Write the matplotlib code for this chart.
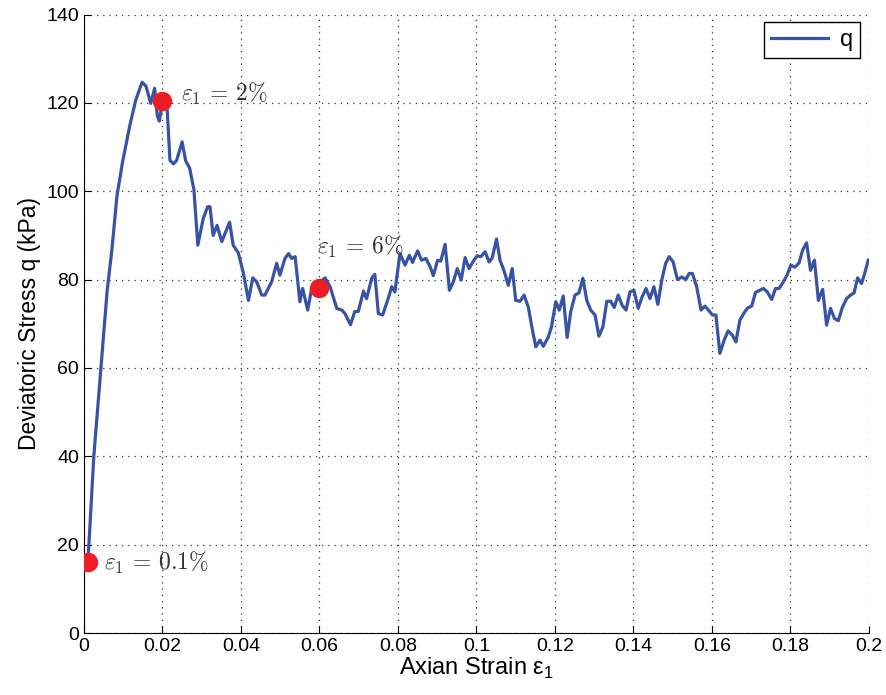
import matplotlib.pyplot as plt

# strain (-) and deviatoric stress q (kPa)
strain = [0.0010, 0.0025, 0.0043, 0.0059, 0.0071, 0.0084, 0.0099, 0.0117, 0.0132, 0.0148,
          0.0158, 0.0170, 0.0180, 0.0187, 0.0192, 0.0200, 0.0212, 0.0219, 0.0228, 0.0236,
          0.0250, 0.0259, 0.0269, 0.0280, 0.0290, 0.0304, 0.0315, 0.0321, 0.0329, 0.0339,
          0.0351, 0.0371, 0.0380, 0.0393, 0.0406, 0.0419, 0.0430, 0.0440, 0.0453, 0.0461,
          0.0478, 0.0491, 0.0499, 0.0512, 0.0521, 0.0529, 0.0538, 0.0550, 0.0557, 0.0570,
          0.0580, 0.0596, 0.0614, 0.0627, 0.0644, 0.0657, 0.0665, 0.0679, 0.0690, 0.0699,
          0.0712, 0.0720, 0.0733, 0.0741, 0.0750, 0.0761, 0.0775, 0.0784, 0.0792, 0.0805,
          0.0818, 0.0829, 0.0837, 0.0850, 0.0860, 0.0871, 0.0882, 0.0890, 0.0901, 0.0909,
          0.0920, 0.0931, 0.0941, 0.0951, 0.0961, 0.0971, 0.0981, 0.0992, 0.1002, 0.1011,
          0.1022, 0.1032, 0.1040, 0.1051, 0.1060, 0.1071, 0.1081, 0.1091, 0.1100, 0.1111,
          0.1121, 0.1132, 0.1141, 0.1151, 0.1162, 0.1170, 0.1183, 0.1191, 0.1202, 0.1211,
          0.1221, 0.1231, 0.1240, 0.1251, 0.1261, 0.1271, 0.1281, 0.1291, 0.1302, 0.1312,
          0.1322, 0.1332, 0.1342, 0.1351, 0.1361, 0.1371, 0.1381, 0.1391, 0.1401, 0.1412,
          0.1422, 0.1432, 0.1442, 0.1452, 0.1462, 0.1472, 0.1482, 0.1491, 0.1501, 0.1512,
          0.1523, 0.1533, 0.1542, 0.1550, 0.1561, 0.1572, 0.1582, 0.1591, 0.1601, 0.1610,
          0.1620, 0.1631, 0.1641, 0.1652, 0.1661, 0.1671, 0.1682, 0.1691, 0.1701, 0.1711,
          0.1722, 0.1731, 0.1741, 0.1752, 0.1762, 0.1771, 0.1782, 0.1792, 0.1801, 0.1811,
          0.1822, 0.1831, 0.1841, 0.1851, 0.1861, 0.1871, 0.1882, 0.1892, 0.1902, 0.1912,
          0.1922, 0.1932, 0.1943, 0.1953, 0.1962, 0.1971, 0.1981, 0.1989, 0.1998]
q = [16.0, 40.0, 60.0, 77.5, 86.7, 99.0, 107.0, 115.0, 120.7, 124.7,
     123.8, 119.9, 123.3, 117.0, 115.9, 120.5, 118.4, 107.0, 106.2, 107.0,
     111.2, 106.9, 105.3, 100.4, 87.8, 93.9, 96.5, 96.5, 90.0, 92.3,
     88.6, 93.0, 87.8, 86.1, 81.5, 75.3, 80.4, 79.5, 76.5, 76.5,
     79.5, 83.7, 81.0, 84.8, 85.9, 84.8, 85.2, 75.0, 78.0, 73.1,
     78.0, 79.0, 80.4, 78.4, 73.5, 73.1, 72.3, 69.8, 72.8, 72.8,
     77.4, 75.7, 80.3, 81.2, 72.3, 72.0, 75.7, 78.4, 77.2, 85.9,
     83.3, 85.5, 83.9, 86.5, 84.4, 84.8, 82.9, 80.9, 84.4, 84.2,
     88.0, 77.6, 79.5, 82.5, 79.9, 85.0, 82.5, 84.2, 85.4, 85.2,
     86.3, 84.0, 84.9, 89.2, 84.4, 81.8, 78.7, 82.5, 75.3, 75.1,
     76.5, 73.8, 69.3, 64.8, 66.3, 64.9, 67.0, 69.3, 75.0, 73.1,
     76.3, 66.9, 72.7, 76.5, 77.0, 80.3, 75.3, 73.1, 72.0, 67.2,
     69.3, 75.1, 75.1, 73.7, 76.5, 74.2, 73.1, 77.2, 77.6, 73.5,
     76.1, 78.0, 75.7, 78.4, 74.4, 79.9, 83.7, 85.2, 84.0, 80.0,
     80.6, 80.0, 81.4, 81.4, 78.4, 73.1, 74.0, 73.1, 72.0, 72.0,
     63.3, 66.3, 68.4, 67.4, 65.9, 70.8, 72.5, 73.6, 74.0, 77.1,
     77.6, 78.0, 77.2, 75.5, 78.0, 78.0, 79.5, 81.2, 83.3, 82.8,
     83.8, 86.7, 88.3, 82.1, 84.4, 75.3, 77.8, 69.7, 73.5, 71.2,
     70.7, 73.7, 75.7, 76.5, 77.0, 80.4, 79.1, 81.4, 84.4]

# highlighted states
pt_strain = [0.001, 0.02, 0.06]
pt_q = [16.0, 120.5, 78.0]
pt_labels = [r'$\varepsilon_1\, =\, 0.1\%$', r'$\varepsilon_1\, =\, 2\%$', r'$\varepsilon_1\, =\, 6\%$']
label_pos = [(0.0052, 15.8), (0.0247, 122.0), (0.0593, 87.5)]

plt.rcParams['font.family'] = ['Liberation Sans', 'DejaVu Sans']

fig = plt.figure(figsize=(8.87, 6.95), dpi=100)
ax = fig.add_axes([0.0947, 0.0892, 0.885, 0.8898])

ax.plot(strain, q, color='#3953a4', lw=2.3, label='q', zorder=3)
ax.plot(pt_strain, pt_q, 'o', color='#ee1c25', ms=14, mec='none', zorder=4)
for (tx, ty), lab in zip(label_pos, pt_labels):
    ax.text(tx, ty, lab, fontsize=17, color='#333333', va='center', ha='left',
            math_fontfamily='cm', zorder=5)

ax.set_xlim(0, 0.2)
ax.set_ylim(0, 140)
ax.set_xticks([0, 0.02, 0.04, 0.06, 0.08, 0.1, 0.12, 0.14, 0.16, 0.18, 0.2])
ax.set_xticklabels(['0', '0.02', '0.04', '0.06', '0.08', '0.1', '0.12', '0.14',
                    '0.16', '0.18', '0.2'])
ax.set_yticks(range(0, 141, 20))
ax.tick_params(direction='in', labelsize=14, length=5, colors='black')
ax.grid(True, linestyle=(0, (1, 4)), color='#333333', lw=0.9)
for s in ['top', 'right']:
    ax.spines[s].set_visible(False)

ax.set_xlabel(r'Axian Strain ε$_\mathregular{1}$', fontsize=17, labelpad=1)
ax.set_ylabel('Deviatoric Stress q (kPa)', fontsize=16.5, labelpad=4)

leg = ax.legend(loc='upper right', fontsize=17, fancybox=False, framealpha=1,
                edgecolor='black', handlelength=2.4, borderpad=0.3,
                handletextpad=0.5, borderaxespad=0,
                bbox_to_anchor=(0.9885, 0.988))
leg.get_frame().set_linewidth(1.0)

fig.savefig('out.png', dpi=100)
